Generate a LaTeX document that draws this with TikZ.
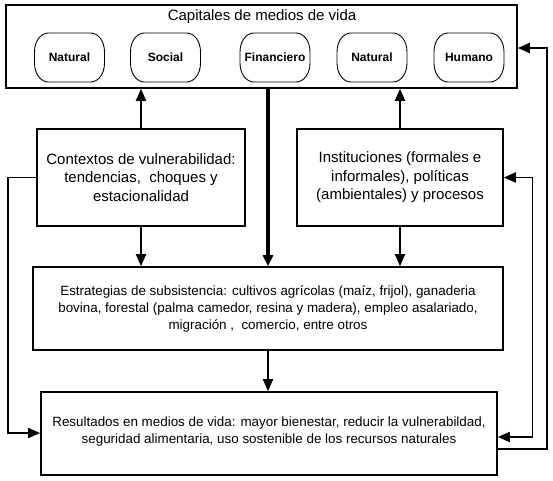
\documentclass[tikz,border=0pt]{standalone}
\usepackage{fontspec}
\setmainfont{Liberation Sans}
\usetikzlibrary{arrows.meta}
\newcommand\pillborder[1]{%
  \draw[pillline] ([xshift=14pt]#1.north west) -- ([xshift=-14pt]#1.north east)
    .. controls +(7.7pt,0pt) and +(0pt,11pt) .. ([yshift=-19pt]#1.north east)
    -- ([yshift=19pt]#1.south east)
    .. controls +(0pt,-11pt) and +(7.7pt,0pt) .. ([xshift=-14pt]#1.south east)
    -- ([xshift=14pt]#1.south west)
    .. controls +(-7.7pt,0pt) and +(0pt,-11pt) .. ([yshift=19pt]#1.south west)
    -- ([yshift=-19pt]#1.north west)
    .. controls +(0pt,11pt) and +(-7.7pt,0pt) .. cycle;}
\begin{document}
\begin{tikzpicture}[x=1pt,y=-1pt,
  box/.style={draw, line width=1.6pt, inner sep=0pt, align=center},
  capnode/.style={minimum width=70pt, minimum height=49pt, inner sep=0pt, outer sep=0pt, font=\fontsize{12pt}{14pt}\selectfont\bfseries},
  pillline/.style={line width=0.9pt, line join=round},
  bigtext/.style={font=\fontsize{15pt}{18.5pt}\selectfont},
  smalltext/.style={font=\fontsize{13.4pt}{17pt}\selectfont},
  arr/.style={line width=1.8pt, -{Triangle[length=12pt,width=10pt]}},
  darr/.style={line width=1.8pt, {Triangle[length=12pt,width=10pt]}-{Triangle[length=12pt,width=10pt]}},
  thickarr/.style={line width=4pt, -{Triangle[length=11pt,width=10pt]}}
]
\useasboundingbox (0,0) rectangle (553,480);
% top box
\node[box, minimum width=511pt, minimum height=83pt] (cap) at (261.5,46.5) {};
\node[bigtext] (captitle) at (262,17) {Capitales de medios de vida};
\node[capnode] (n1) at (69.5,57.5) {Natural};
\node[capnode] (n2) at (165.5,57.5) {Social};
\node[capnode] (n3) at (275,57.5) {Financiero};
\node[capnode] (n4) at (372,57.5) {Natural};
\node[capnode] (n5) at (469,57.5) {Humano};
\pillborder{n1}\pillborder{n2}\pillborder{n3}\pillborder{n4}\pillborder{n5}
% middle boxes
\node[box, bigtext, minimum width=208pt, minimum height=97pt] (ctx) at (141,177.5)
  {Contextos de vulnerabilidad:\\tendencias,\ \ choques y\\estacionalidad};
\node[box, bigtext, minimum width=206pt, minimum height=97pt] (ins) at (400,177.5)
  {Instituciones (formales e\\informales), políticas\\(ambientales) y procesos};
\node[box, smalltext, minimum width=470pt, minimum height=83pt] (est) at (268,308.5)
  {Estrategias de subsistencia: cultivos agrícolas (maíz, frijol), ganaderia\\bovina, forestal (palma camedor, resina y madera), empleo asalariado,\\migración ,\ \ comercio, entre otros};
\node[box, minimum width=456pt, minimum height=83pt] (res) at (269,433.5) {};
\node[smalltext, align=center] (restext) at (269,432) {Resultados en medios de vida: mayor bienestar, reducir la vulnerabildad,\\seguridad alimentaria, uso sostenible de los recursos naturales};
% connectors
\draw[arr] (ctx.north) -- (ctx.north |- cap.south);
\draw[arr] (ins.north) -- (ins.north |- cap.south);
\draw[arr] (ctx.south) -- (ctx.south |- est.north);
\draw[arr] (ins.south) -- (ins.south |- est.north);
\draw[thickarr] (est.north |- cap.south) -- (est.north);
\draw[arr] (est.south) -- (est.south |- res.north);
\coordinate (lx) at (8.3,433);
\draw[arr] (ctx.west) -| (lx) -- (lx -| res.west);
\coordinate (rx) at (532.5,437);
\draw[darr] (ins.east) -| (rx) -- (rx -| res.east);
\coordinate (ob) at (547,449);
\coordinate (ot) at (547,48);
\draw[arr] (ob -| res.east) -- (ob) -- (ot) -- (ot -| cap.east);
\end{tikzpicture}
\end{document}
